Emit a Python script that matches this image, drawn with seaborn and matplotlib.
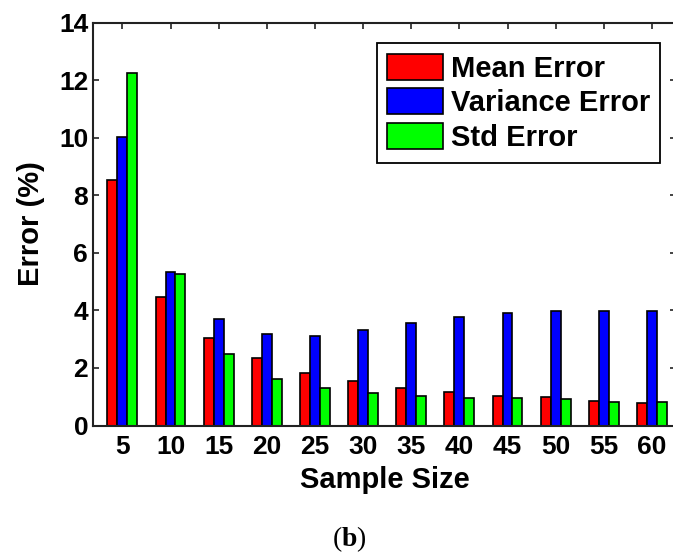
import matplotlib
matplotlib.use("Agg")
import matplotlib.pyplot as plt
import seaborn as sns
import pandas as pd

# ---- data ----
sample_sizes = ["5", "10", "15", "20", "25", "30", "35", "40", "45", "50", "55", "60"]
mean_error = [8.52, 4.47, 3.05, 2.33, 1.81, 1.56, 1.29, 1.16, 1.03, 0.98, 0.84, 0.77]
variance_error = [10.03, 5.32, 3.70, 3.18, 3.11, 3.31, 3.57, 3.76, 3.90, 3.97, 3.97, 3.97]
std_error = [12.23, 5.27, 2.47, 1.61, 1.29, 1.14, 1.03, 0.97, 0.96, 0.91, 0.83, 0.83]
series_names = ["Mean Error", "Variance Error", "Std Error"]
series_colors = ["#FF0000", "#0000FF", "#00FF00"]
y_ticks = [0, 2, 4, 6, 8, 10, 12, 14]

rows = []
for name, vals in zip(series_names, [mean_error, variance_error, std_error]):
    for s, v in zip(sample_sizes, vals):
        rows.append({"Sample Size": s, "Error": v, "Series": name})
df = pd.DataFrame(rows)

sns.set_style("ticks")
plt.rcParams["font.family"] = ["Liberation Sans", "DejaVu Sans"]
plt.rcParams["font.weight"] = "bold"
plt.rcParams["axes.labelweight"] = "bold"
plt.rcParams["axes.labelcolor"] = "black"
plt.rcParams["text.color"] = "black"
plt.rcParams["mathtext.fontset"] = "custom"
plt.rcParams["mathtext.rm"] = "Liberation Serif"
plt.rcParams["mathtext.bf"] = "Liberation Serif:bold"

W, H = 673, 553
fig = plt.figure(figsize=(W / 100, H / 100), dpi=100)
ax_left, ax_right, ax_top, ax_bottom = 93, 676, 22.5, 425.5
ax = fig.add_axes([ax_left / W, (H - ax_bottom) / H,
                   (ax_right - ax_left) / W, (ax_bottom - ax_top) / H])

sns.barplot(data=df, x="Sample Size", y="Error", hue="Series",
            order=sample_sizes, hue_order=series_names,
            palette=series_colors, saturation=1, width=0.62,
            edgecolor="black", linewidth=1.2, ax=ax)

ax.set_xlim(-0.61, 11.5)
ax.set_ylim(0, 14)
ax.set_yticks(y_ticks)
ax.set_yticklabels([str(t) for t in y_ticks])

spine_color = "#222222"
for side in ["left", "right", "top", "bottom"]:
    ax.spines[side].set_visible(True)
    ax.spines[side].set_color(spine_color)
    ax.spines[side].set_linewidth(1.5)

ax.tick_params(axis="both", which="major", direction="in", length=4.5,
               width=1.2, color=spine_color, top=True, right=True,
               labelsize=19, labelcolor="black")
ax.tick_params(axis="y", pad=3.5)
ax.tick_params(axis="x", pad=7)
for lbl in ax.get_xticklabels() + ax.get_yticklabels():
    lbl.set_fontweight("bold")

ax.set_xlabel("Sample Size", fontsize=21, fontweight="bold", labelpad=5,
              color="black")
ax.set_ylabel("Error (%)", fontsize=21, fontweight="bold", labelpad=10,
              color="black")

leg = ax.legend(loc="upper right", bbox_to_anchor=(660 / W, 1 - 43.3 / H),
                bbox_transform=fig.transFigure, borderaxespad=0,
                frameon=True, fancybox=False, shadow=False,
                framealpha=1, edgecolor="black", handlelength=1.93,
                handleheight=1.0, handletextpad=0.25, labelspacing=0.2,
                borderpad=0.35, title=None,
                prop={"weight": "bold", "size": 21})
leg.get_frame().set_linewidth(1.3)
for t in leg.get_texts():
    t.set_color("black")

fig.text(349 / W, (H - 539) / H, r"($\mathbf{b}$)", fontsize=20,
         family="Liberation Serif", fontweight="normal",
         ha="center", va="center")

fig.savefig("out.png", dpi=100)
